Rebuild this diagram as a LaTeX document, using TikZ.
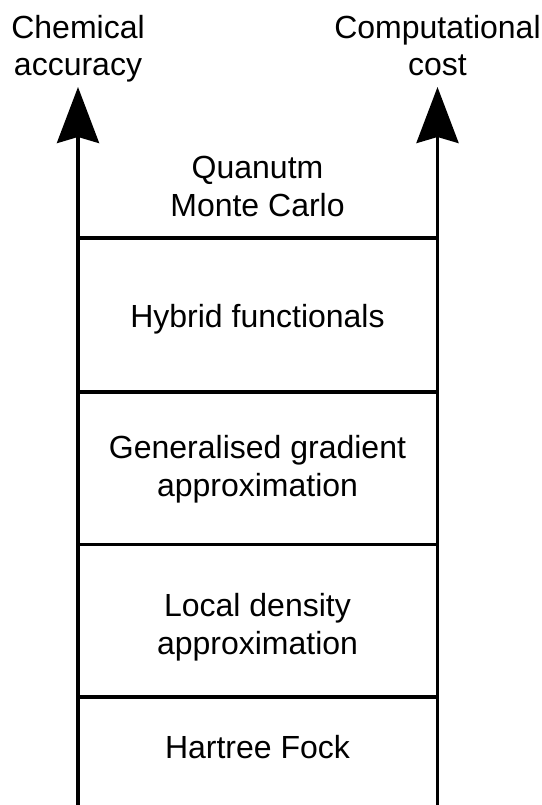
\documentclass[tikz,border=0pt]{standalone}
\usepackage{fontspec}
\setmainfont{Liberation Sans}
\usetikzlibrary{arrows.meta}

\begin{document}
\begin{tikzpicture}[x=1pt,y=-1pt,
      axis/.style={-{Stealth[length=56pt,width=42pt,inset=6pt]},line width=3.6pt},
      rung/.style={line width=3.6pt},
      lbl/.style={align=center,inner sep=0pt,anchor=base,font=\fontsize{32}{37.5}\selectfont}]
    \useasboundingbox (0,0) rectangle (541,805);
    \node[lbl](acc) at (78,76) {Chemical\\accuracy};
    \node[lbl](cost) at (437.5,76) {Computational\\cost};
    \node[lbl](qmc) at (257.5,216) {Quanutm\\Monte Carlo};
    \node[lbl](hyb) at (257.5,327) {Hybrid functionals};
    \node[lbl](gga) at (257.5,496) {Generalised gradient\\approximation};
    \node[lbl](lda) at (257.5,654) {Local density\\approximation};
    \node[lbl](hf) at (257.5,758) {Hartree Fock};
    \coordinate (accbot) at (78,805);
    \coordinate (acctop) at (78,87);
    \coordinate (costbot) at (437.5,805);
    \coordinate (costtop) at (437.5,87);
    \coordinate (l1) at (78,238);
    \coordinate (r1) at (437.5,238);
    \coordinate (l2) at (78,392);
    \coordinate (r2) at (437.5,392);
    \coordinate (l3) at (78,544.5);
    \coordinate (r3) at (437.5,544.5);
    \coordinate (l4) at (78,697);
    \coordinate (r4) at (437.5,697);
    \draw[axis](accbot)--(acctop);
    \draw[axis](costbot)--(costtop);
    \draw[rung](l1)--(r1);
    \draw[rung](l2)--(r2);
    \draw[rung](l3)--(r3);
    \draw[rung](l4)--(r4);
  \end{tikzpicture}
\end{document}
